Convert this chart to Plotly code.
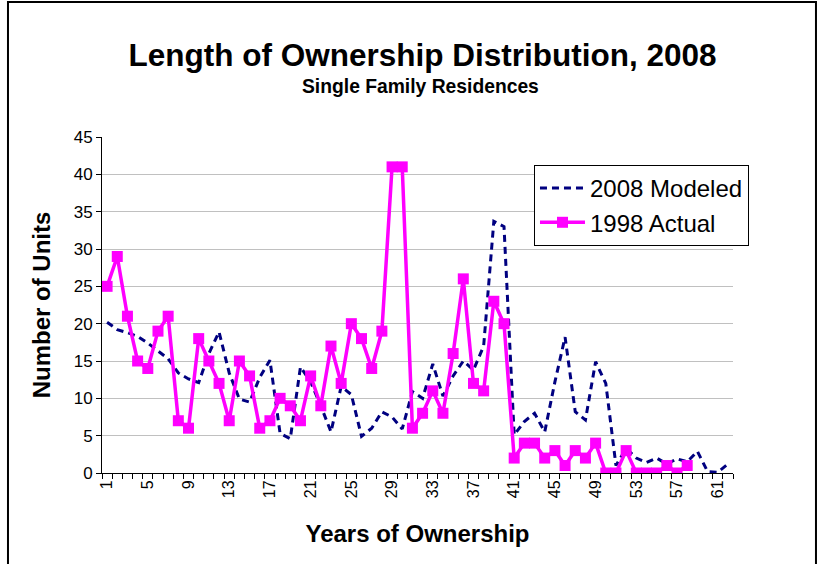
"""
Length of ownership distribution chart (single family residences)
"""
import plotly.graph_objects as go

# categories: years of ownership
years = list(range(1, 63))
tick_labels = ["1", "5", "9", "13", "17", "21", "25", "29", "33", "37",
               "41", "45", "49", "53", "57", "61"]

# 2008 modeled distribution (dashed navy line)
modeled_2008 = [20.2, 19.2, 18.8, 18.3, 17.4, 16.3, 15.3, 13.4, 12.6, 12.1,
                16.0, 18.9, 13.4, 9.9, 9.5, 12.8, 15.1, 5.3, 4.6, 14.2,
                12.2, 9.0, 5.5, 11.6, 10.5, 4.9, 6.0, 8.2, 7.5, 5.9,
                10.9, 10.0, 14.6, 10.3, 13.0, 15.0, 13.8, 17.0, 33.7, 33.0,
                5.1, 6.9, 8.0, 5.5, 12.2, 18.2, 8.2, 7.1, 14.9, 12.0,
                1.0, 3.3, 2.0, 1.4, 2.0, 1.2, 1.9, 1.5, 2.9, 0.2,
                0.1, 1.2]

# 1998 actual counts (magenta line with square markers)
actual_1998 = [25, 29, 21, 15, 14, 19, 21, 7, 6, 18,
               15, 12, 7, 15, 13, 6, 7, 10, 9, 7,
               13, 9, 17, 12, 20, 18, 14, 19, 41, 41,
               6, 8, 11, 8, 16, 26, 12, 11, 23, 20,
               2, 4, 4, 2, 3, 1, 3, 2, 4, 0,
               0, 3, 0, 0, 0, 1, 0, 1]

FONT = "Liberation Sans, Arial, sans-serif"

fig = go.Figure()

fig.add_trace(go.Scatter(
    x=years,
    y=modeled_2008,
    name="2008 Modeled",
    mode="lines",
    line=dict(color="#000080", width=3, dash="7px,5px"),
))

fig.add_trace(go.Scatter(
    x=years[:len(actual_1998)],
    y=actual_1998,
    name="1998 Actual",
    mode="lines+markers",
    line=dict(color="#FF00FF", width=3.5),
    marker=dict(symbol="square", size=11, color="#FF00FF"),
))

fig.update_xaxes(
    range=[0.5, 62.5],
    tickmode="array",
    tickvals=[int(t) for t in tick_labels],
    ticktext=tick_labels,
    ticks="",
    tickangle=-90,
    tickfont=dict(family=FONT, size=16, color="black"),
    minor=dict(tickmode="linear", tick0=0.5, dtick=1, ticks="outside",
               ticklen=5, tickcolor="black", showgrid=False),
    showline=True,
    linecolor="black",
    linewidth=1,
    showgrid=False,
    zeroline=False,
    title=dict(text="Years of Ownership", standoff=28,
               font=dict(family=FONT, size=24, weight="bold", color="black")),
)

fig.update_yaxes(
    range=[0, 45],
    dtick=5,
    ticks="outside",
    ticklen=5,
    tickcolor="black",
    tickfont=dict(family=FONT, size=17, color="black"),
    showline=True,
    linecolor="black",
    linewidth=1,
    showgrid=True,
    gridcolor="#c0c0c0",
    gridwidth=1,
    zeroline=False,
    title=dict(text="Number of Units", standoff=16,
               font=dict(family=FONT, size=24, weight="bold", color="black")),
)

fig.update_layout(
    width=821,
    height=564,
    margin=dict(l=102, r=88, t=137, b=91),
    plot_bgcolor="white",
    paper_bgcolor="white",
    title=dict(
        text="Length of Ownership Distribution, 2008",
        x=0.5146, y=0.902, xanchor="center", yanchor="middle",
        font=dict(family=FONT, size=31.5, weight="bold", color="black"),
    ),
    legend=dict(
        x=0.6846, y=0.9167, xanchor="left", yanchor="top",
        bgcolor="white", bordercolor="black", borderwidth=1,
        font=dict(family=FONT, size=24, color="black"),
        itemwidth=45,
        tracegroupgap=0,
    ),
    annotations=[dict(
        text="Single Family Residences",
        xref="paper", yref="paper", x=0.5055, y=1.149,
        xanchor="center", yanchor="middle", showarrow=False,
        font=dict(family=FONT, size=19.3, weight="bold", color="black"),
    )],
    shapes=[dict(
        type="path", xref="paper", yref="paper",
        path="M -0.149,-0.4 L -0.149,1.4018 L 1.1315,1.4018 L 1.1315,-0.4",
        line=dict(color="black", width=2),
    )],
)

fig.write_html("out.html", config={"displayModeBar": False},
               post_script="document.body.style.margin='0';")
